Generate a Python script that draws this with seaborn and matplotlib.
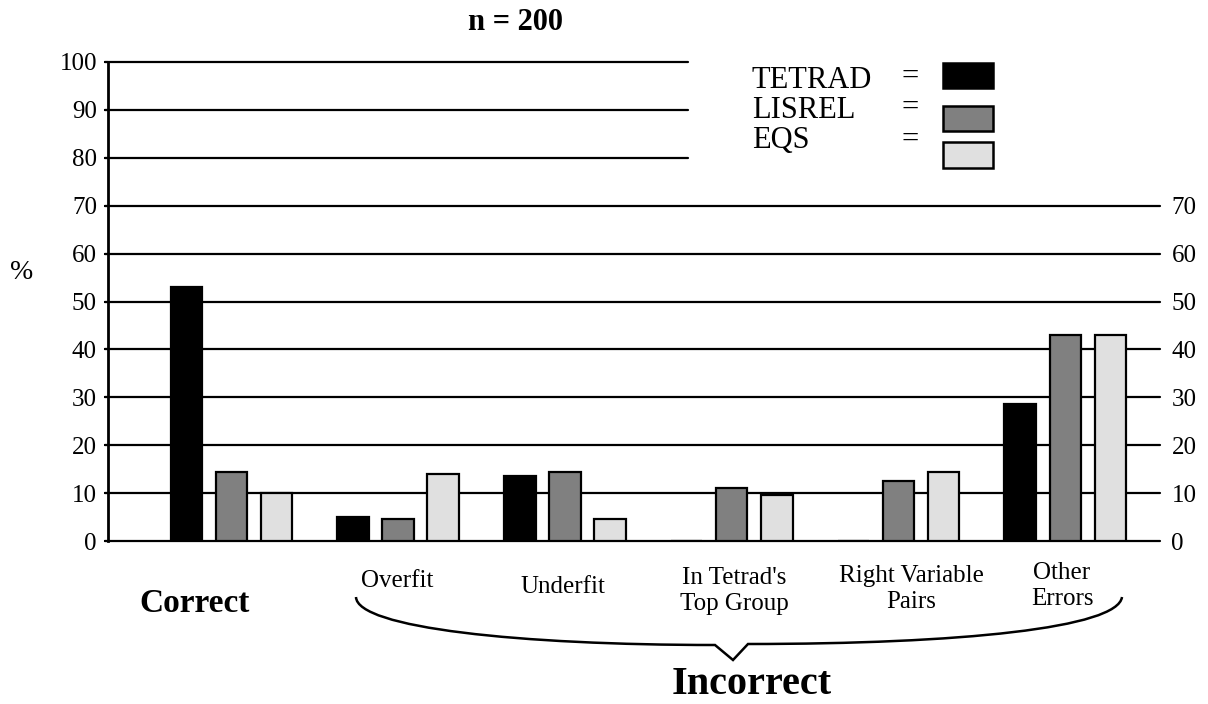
# Recreation of the TETRAD / LISREL / EQS comparison bar chart (n = 200)

import matplotlib.pyplot as plt
from matplotlib.patches import PathPatch, Rectangle
from matplotlib.path import Path
import pandas as pd
import seaborn as sns


W, H = 1208, 704

CATEGORIES = [
    "Correct",
    "Overfit",
    "Underfit",
    "In Tetrad's\nTop Group",
    "Right Variable\nPairs",
    "Other\nErrors",
]
METHODS = ["TETRAD", "LISREL", "EQS"]
TETRAD = [53, 5, 13.5, 0, 0, 28.5]
LISREL = [14.5, 4.5, 14.5, 11, 12.5, 43]
EQS = [10, 14, 4.5, 9.5, 14.5, 43]
COLORS = ["#000000", "#808080", "#e0e0e0"]

LEFT_TICKS = list(range(0, 101, 10))
RIGHT_TICKS = list(range(0, 71, 10))


def fx(x):
    return x / W


def fy(y):
    return 1 - y / H


def setup_style() -> None:
    sns.set_theme(style="white")
    plt.rcParams["font.family"] = ["Liberation Serif", "DejaVu Serif"]
    plt.rcParams["text.color"] = "black"
    plt.rcParams["axes.labelcolor"] = "black"
    plt.rcParams["xtick.color"] = "black"
    plt.rcParams["ytick.color"] = "black"


def main() -> None:
    setup_style()

    df = pd.DataFrame(
        {
            "category": CATEGORIES * len(METHODS),
            "method": [m for m in METHODS for _ in CATEGORIES],
            "value": TETRAD + LISREL + EQS,
        }
    )
    palette = dict(zip(METHODS, COLORS))

    fig = plt.figure(figsize=(W / 100, H / 100), dpi=100)
    ax = fig.add_axes([fx(108), fy(541), (1152 - 108) / W, (541 - 62) / H])

    sns.barplot(
        data=df,
        x="category",
        y="value",
        hue="method",
        order=CATEGORIES,
        hue_order=METHODS,
        palette=palette,
        width=0.81,
        gap=0.3,
        edgecolor="black",
        linewidth=1.6,
        legend=False,
        ax=ax,
        zorder=3,
    )

    ax.set_xlim(-0.74, 5.52)
    ax.set_ylim(0, 100)
    ax.set_xticks([])
    ax.set_xlabel("")
    ax.set_ylabel("")
    ax.set_yticks(LEFT_TICKS)
    ax.tick_params(axis="y", length=3, width=1.5, pad=5, labelsize=18, left=True)
    for side in ["top", "right", "bottom"]:
        ax.spines[side].set_visible(False)
    ax.spines["left"].set_color("black")
    ax.spines["left"].set_linewidth(2)

    # horizontal rules: full width up to 70, short above
    short = (688 - 108) / (1152 - 108)
    for t in LEFT_TICKS:
        xmax = 1.0077 if t <= 70 else short
        ax.axhline(t, xmin=-0.003, xmax=xmax, color="black", lw=1.6,
                   zorder=1, clip_on=False)

    ax2 = ax.twinx()
    ax2.set_ylim(0, 100)
    ax2.set_yticks(RIGHT_TICKS)
    ax2.tick_params(axis="y", length=0, pad=14, labelsize=18, right=True)
    for side in ax2.spines:
        ax2.spines[side].set_visible(False)

    # title and axis label
    fig.text(fx(516), fy(23), "n = 200", ha="center", va="center",
             fontsize=22, fontweight="bold")
    fig.text(fx(22), fy(273), "%", ha="center", va="center", fontsize=20)

    # legend in "NAME = box" form
    label_base = [88, 118, 148]
    eq_y = [77, 108, 140]
    boxes = [(63, 88), (106, 131), (142, 168)]
    for i, (method, color) in enumerate(zip(METHODS, COLORS)):
        fig.text(fx(752), fy(label_base[i]), method, ha="left",
                 va="baseline", fontsize=22)
        fig.text(fx(910), fy(eq_y[i]), "=", ha="center", va="center",
                 fontsize=22)
        top, bottom = boxes[i]
        fig.add_artist(
            Rectangle(
                (fx(943), fy(bottom)),
                50 / W,
                (bottom - top) / H,
                transform=fig.transFigure,
                facecolor=color,
                edgecolor="black",
                lw=1.8,
            )
        )

    # category labels
    label_pos = [
        (195, 604),
        (397, 581),
        (563, 587),
        (734, 591),
        (911, 589),
        (1062, 586),
    ]
    for text, (x, y) in zip(CATEGORIES, label_pos):
        if text == "Correct":
            fig.text(fx(x), fy(y), text, ha="center", va="center",
                     fontsize=24, fontweight="bold")
        else:
            fig.text(fx(x), fy(y), text, ha="center", va="center",
                     fontsize=18, linespacing=1.2)

    # brace under the incorrect groups
    verts = [
        (356, 597), (357, 628), (520, 645), (715, 645),
        (733, 660),
        (748, 644),
        (960, 644), (1118, 628), (1122, 597),
    ]
    codes = [
        Path.MOVETO, Path.CURVE4, Path.CURVE4, Path.CURVE4,
        Path.LINETO,
        Path.LINETO,
        Path.CURVE4, Path.CURVE4, Path.CURVE4,
    ]
    brace = Path([(fx(x), fy(y)) for x, y in verts], codes)
    fig.add_artist(PathPatch(brace, transform=fig.transFigure, fill=False,
                             lw=1.8, edgecolor="black"))

    fig.text(fx(752), fy(684), "Incorrect", ha="center", va="center",
             fontsize=29, fontweight="bold")

    fig.savefig("out.png", dpi=100)
    plt.close(fig)


if __name__ == "__main__":
    main()
